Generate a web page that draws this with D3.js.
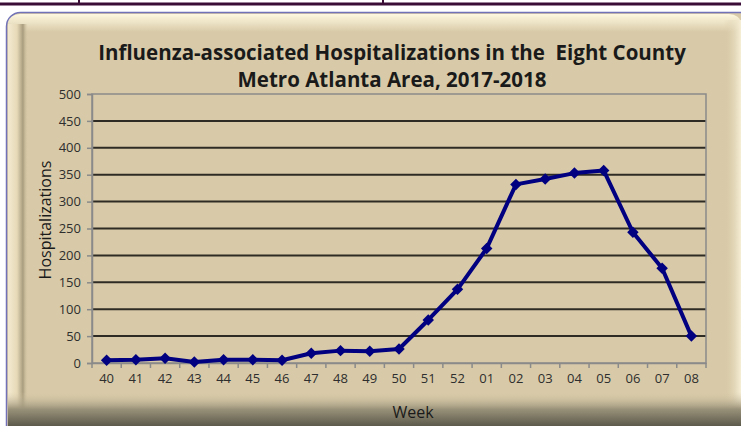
<!DOCTYPE html>
<html>
<head>
<meta charset="utf-8">
<script src="https://cdn.jsdelivr.net/npm/d3@7"></script>
<style>
  body { margin: 0; background: #fff; }
  svg { display: block; }
</style>
</head>
<body>
<div class="container"></div>
<script>
const weeks = ['40', '41', '42', '43', '44', '45', '46', '47', '48', '49', '50', '51', '52',
    '01', '02', '03', '04', '05', '06', '07', '08'];
const hospitalizations = [5, 6, 9, 2, 6, 6, 5, 18, 23, 22, 26, 80, 137, 213, 332, 342, 353, 358, 243, 176, 50];
const yTicks = [0, 50, 100, 150, 200, 250, 300, 350, 400, 450, 500];
const titleLines = ['Influenza-associated Hospitalizations in the  Eight County', 'Metro Atlanta Area, 2017-2018'];

const w = 741;
const h = 426;

const plot = {
    left: 92,
    right: 706,
    top: 94,
    bottom: 363
}

const svg = d3.select('.container')
    .append('svg')
    .attr('width', w)
    .attr('height', h)
    .attr('viewBox', [0, 0, w, h]);

const defs = svg.append('defs');

// bevel gradients for the panel
const gTop = defs.append('linearGradient').attr('id', 'gTop').attr('x1', 0).attr('y1', 0).attr('x2', 0).attr('y2', 1);
gTop.append('stop').attr('offset', 0).attr('stop-color', '#fff8e0').attr('stop-opacity', 1);
gTop.append('stop').attr('offset', 1).attr('stop-color', '#fff8e0').attr('stop-opacity', 0);

const gLeft = defs.append('linearGradient').attr('id', 'gLeft').attr('x1', 0).attr('y1', 0).attr('x2', 1).attr('y2', 0);
gLeft.append('stop').attr('offset', 0).attr('stop-color', '#f4ead0');
gLeft.append('stop').attr('offset', 0.45).attr('stop-color', '#e6d9b8');
gLeft.append('stop').attr('offset', 0.75).attr('stop-color', '#a89c7e');
gLeft.append('stop').attr('offset', 1).attr('stop-color', '#d8caa8').attr('stop-opacity', 0);

const gBottom = defs.append('linearGradient').attr('id', 'gBottom').attr('x1', 0).attr('y1', 0).attr('x2', 0).attr('y2', 1);
gBottom.append('stop').attr('offset', 0).attr('stop-color', '#d8caa8').attr('stop-opacity', 0);
gBottom.append('stop').attr('offset', 0.5).attr('stop-color', '#9a927a');
gBottom.append('stop').attr('offset', 1).attr('stop-color', '#5c5a4c');

const gRight = defs.append('linearGradient').attr('id', 'gRight').attr('x1', 0).attr('y1', 0).attr('x2', 1).attr('y2', 0);
gRight.append('stop').attr('offset', 0).attr('stop-color', '#d8caa8').attr('stop-opacity', 0);
gRight.append('stop').attr('offset', 1).attr('stop-color', '#f6eed6');

// top bar of the page
svg.append('rect').attr('x', 0).attr('y', 2.5).attr('width', w).attr('height', 3).attr('fill', '#3a0d36');
[79, 383].forEach(x => {
    svg.append('rect').attr('x', x - 1).attr('y', 0).attr('width', 2).attr('height', 5).attr('fill', '#3a0d36');
});

// panel
svg.append('rect')
    .attr('x', 6.5).attr('y', 12.5)
    .attr('width', 780).attr('height', 460)
    .attr('rx', 14)
    .attr('fill', '#d8caa8')
    .attr('stroke', '#7272b8')
    .attr('stroke-width', 1.5);
svg.append('rect').attr('x', 8).attr('y', 14).attr('width', 733).attr('height', 18).attr('rx', 12).attr('fill', 'url(#gTop)');
svg.append('rect').attr('x', 8).attr('y', 24).attr('width', 20).attr('height', 402).attr('fill', 'url(#gLeft)');
svg.append('rect').attr('x', 724).attr('y', 20).attr('width', 17).attr('height', 406).attr('fill', 'url(#gRight)');
svg.append('rect').attr('x', 8).attr('y', 392).attr('width', 733).attr('height', 34).attr('fill', 'url(#gBottom)');

// title
svg.append('g')
    .selectAll('text')
    .data(titleLines)
    .join('text')
    .attr('x', 392)
    .attr('y', (d, i) => 60 + i * 27)
    .attr('text-anchor', 'middle')
    .style('font-family', '"Open Sans", sans-serif')
    .style('font-size', '20.5px')
    .style('font-weight', 'bold')
    .style('fill', '#1a1a1a')
    .style('white-space', 'pre')
    .text(d => d);

const x = d3.scaleBand()
    .domain(weeks)
    .range([plot.left, plot.right]);

const y = d3.scaleLinear()
    .domain([0, 500])
    .range([plot.bottom, plot.top]);

// gridlines
svg.append('g')
    .selectAll('line')
    .data(yTicks.filter(d => d > 0 && d < 500))
    .join('line')
    .attr('x1', plot.left)
    .attr('x2', plot.right)
    .attr('y1', d => y(d))
    .attr('y2', d => y(d))
    .attr('stroke', '#2e2b24')
    .attr('stroke-width', 2);

// plot border
svg.append('rect')
    .attr('x', plot.left).attr('y', plot.top)
    .attr('width', plot.right - plot.left).attr('height', plot.bottom - plot.top)
    .attr('fill', 'none')
    .attr('stroke', '#8a8a8a')
    .attr('stroke-width', 1.5);

const tickFont = g => g
    .style('font-family', '"Open Sans", sans-serif')
    .style('font-size', '13px')
    .style('fill', '#2e2e2e');

// y axis
svg.append('g')
    .attr('transform', `translate(${plot.left}, 0)`)
    .call(d3.axisLeft(y).tickValues(yTicks).tickSize(5).tickPadding(6))
    .call(g => g.select('.domain').attr('stroke', '#8a8a8a').attr('stroke-width', 1.5))
    .call(g => g.selectAll('.tick line').attr('stroke', '#8a8a8a').attr('stroke-width', 1.5))
    .call(g => g.selectAll('.tick text').call(tickFont));

// x axis
svg.append('g')
    .attr('transform', `translate(0, ${plot.bottom})`)
    .call(d3.axisBottom(x).tickSize(0).tickPadding(11))
    .call(g => g.select('.domain').attr('stroke', '#8a8a8a').attr('stroke-width', 1.5))
    .call(g => g.selectAll('.tick text').call(tickFont));

svg.append('g')
    .selectAll('line')
    .data(weeks.map(d => x(d)).concat([plot.right]))
    .join('line')
    .attr('x1', d => d).attr('x2', d => d)
    .attr('y1', plot.bottom).attr('y2', plot.bottom + 5)
    .attr('stroke', '#8a8a8a')
    .attr('stroke-width', 1.5);

// axis titles
svg.append('text')
    .attr('transform', `translate(51, 220) rotate(-90)`)
    .attr('text-anchor', 'middle')
    .style('font-family', '"Open Sans", sans-serif')
    .style('font-size', '16px')
    .style('fill', '#1a1a1a')
    .text('Hospitalizations');

svg.append('text')
    .attr('x', 413)
    .attr('y', 418)
    .attr('text-anchor', 'middle')
    .style('font-family', '"Open Sans", sans-serif')
    .style('font-size', '16px')
    .style('fill', '#1a1a1a')
    .text('Week');

// series
const line = d3.line()
    .x((d, i) => x(weeks[i]) + x.bandwidth() / 2)
    .y(d => y(d));

svg.append('path')
    .datum(hospitalizations)
    .attr('d', line)
    .attr('fill', 'none')
    .attr('stroke', '#000080')
    .attr('stroke-width', 4)
    .attr('stroke-linejoin', 'round');

svg.append('g')
    .selectAll('path')
    .data(hospitalizations)
    .join('path')
    .attr('d', d3.symbol(d3.symbolSquare, 66))
    .attr('transform', (d, i) => `translate(${x(weeks[i]) + x.bandwidth() / 2}, ${y(d)}) rotate(45)`)
    .attr('fill', '#000080');
</script>
</body>
</html>
